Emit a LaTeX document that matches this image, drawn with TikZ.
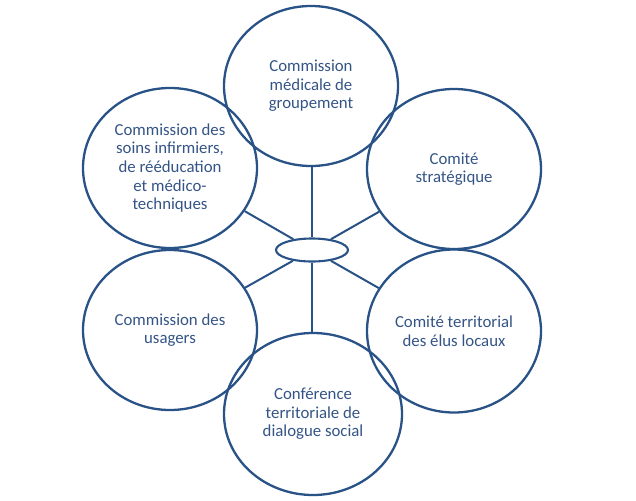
\documentclass[tikz,border=0pt]{standalone}
\usepackage{fontspec}
\setmainfont{Carlito}
\usetikzlibrary{shapes.geometric}
\definecolor{lineblue}{RGB}{41,82,134}
\definecolor{textblue}{RGB}{52,84,134}
\tikzset{
  bubble/.style={ellipse, draw=lineblue, line width=2.3pt, inner sep=0pt,
    minimum width=174pt, minimum height=160pt,
    text=textblue, align=center, font=\fontsize{16.8}{18.6}\selectfont},
  hub/.style={ellipse, draw=lineblue, line width=2.1pt, inner sep=0pt,
    minimum width=72pt, minimum height=23pt},
  link/.style={draw=lineblue, line width=2pt}
}
\begin{document}
\begin{tikzpicture}[x=1pt,y=-1pt]
\useasboundingbox (0,0) rectangle (636,500);
\node[hub] (c) at (312,250) {};
\node[bubble] (top) at (311,86)
  {Commission\\médicale de\\groupement};
\node[bubble, minimum width=178pt, minimum height=162pt] (bot) at (313,414)
  {Conférence\\territoriale de\\dialogue social};
\node[bubble] (ul) at (170,168)
  {Commission des\\soins infirmiers,\\de rééducation\\et médico-\\techniques};
\node[bubble] (ur) at (454,169)
  {Comité\\stratégique};
\node[bubble] (ll) at (170,330)
  {Commission des\\usagers};
\node[bubble, minimum height=163pt] (lr) at (454,331)
  {Comité territorial\\des élus locaux};
\draw[link] (c.north) -- (c.north |- top.south);
\draw[link] (c.south) -- (c.south |- bot.north);
\draw[link] (c) -- (ul);
\draw[link] (c) -- (ur);
\draw[link] (c) -- (ll);
\draw[link] (c) -- (lr);
\end{tikzpicture}
\end{document}
